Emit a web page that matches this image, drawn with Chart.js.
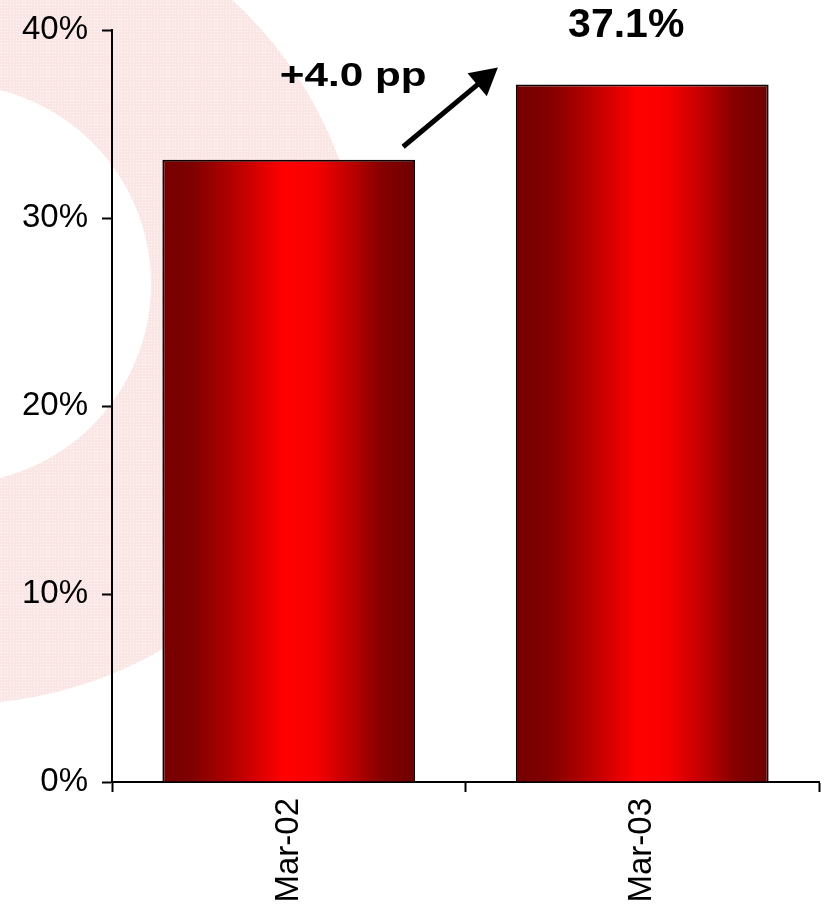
<!DOCTYPE html>
<html>
<head>
<meta charset="utf-8">
<script src="https://cdn.jsdelivr.net/npm/chart.js@4"></script>
<style>
  html, body { margin: 0; padding: 0; background: #ffffff; }
  canvas { display: block; }
</style>
</head>
<body>
<canvas id="chart" width="827" height="914"></canvas>
<script>
// Share values (%) by period
const categories = ['Mar-02', 'Mar-03'];
const shareValues = [33.1, 37.1];
const yTicks = [0, 10, 20, 30, 40];

const FONT = '"Liberation Sans", Arial, Helvetica, sans-serif';
const BAR_PCT = 0.715;

// Horizontal shading for each bar: dark edges, bright red centre
function barGradient(ctx) {
  const chart = ctx.chart;
  const { chartArea, scales } = chart;
  if (!chartArea || !scales.x) return '#c00000';
  const cx = scales.x.getPixelForValue(ctx.dataIndex);
  const w = (scales.x.width / categories.length) * BAR_PCT;
  const g = chart.ctx.createLinearGradient(cx - w / 2, 0, cx + w / 2, 0);
  g.addColorStop(0.00, '#760000');
  g.addColorStop(0.12, '#800000');
  g.addColorStop(0.28, '#b40000');
  g.addColorStop(0.48, '#ff0000');
  g.addColorStop(0.60, '#f80000');
  g.addColorStop(0.74, '#c00000');
  g.addColorStop(0.86, '#880000');
  g.addColorStop(1.00, '#6e0000');
  return g;
}

// Faint dotted pink ring behind the plot
function dotPattern(c) {
  const tile = document.createElement('canvas');
  tile.width = 3; tile.height = 3;
  const t = tile.getContext('2d');
  t.fillStyle = '#fbe6e6';
  t.fillRect(0, 0, 3, 3);
  t.fillStyle = '#fff6f6';
  t.fillRect(1, 1, 1, 1);
  return c.createPattern(tile, 'repeat');
}

const backdrop = {
  id: 'backdrop',
  beforeDraw(chart) {
    const c = chart.ctx;
    c.save();
    c.fillStyle = dotPattern(c);
    c.beginPath();
    c.arc(-41, 299, 405, 0, Math.PI * 2);
    c.arc(-49, 284, 200, 0, Math.PI * 2, true);
    c.fill('evenodd');
    c.restore();
  }
};

// Value label over the latest bar and the change arrow between bars
const callouts = {
  id: 'callouts',
  afterDatasetsDraw(chart) {
    const bars = chart.getDatasetMeta(0).data;
    if (bars.length < 2) return;
    const b1 = bars[0], b2 = bars[1];
    const c = chart.ctx;
    const change = shareValues[1] - shareValues[0];
    c.save();
    c.fillStyle = '#000';
    c.textAlign = 'center';
    c.textBaseline = 'alphabetic';

    // latest value
    c.font = 'bold 41px ' + FONT;
    c.fillText(shareValues[1].toFixed(1) + '%', b2.x - 16, b2.y - 48);

    // change in percentage points
    const r1 = b1.x + b1.width / 2;
    c.save();
    c.translate(r1 - 62, b1.y - 74);
    c.scale(1.28, 1);
    c.font = 'bold 33px ' + FONT;
    c.fillText((change >= 0 ? '+' : '') + change.toFixed(1) + ' pp', 0, 0);
    c.restore();

    // arrow
    const l2 = b2.x - b2.width / 2;
    const x0 = r1 - 12, y0 = b1.y - 13;
    const x1 = l2 - 18, y1 = b2.y - 17;
    const ang = Math.atan2(y1 - y0, x1 - x0);
    const headLen = 27, headHalf = 15;
    const bx = x1 - headLen * Math.cos(ang), by = y1 - headLen * Math.sin(ang);
    c.strokeStyle = '#000';
    c.lineWidth = 5;
    c.lineCap = 'butt';
    c.beginPath();
    c.moveTo(x0, y0);
    c.lineTo(bx + 2 * Math.cos(ang), by + 2 * Math.sin(ang));
    c.stroke();
    c.beginPath();
    c.moveTo(x1, y1);
    c.lineTo(bx + headHalf * Math.sin(ang), by - headHalf * Math.cos(ang));
    c.lineTo(bx - headHalf * Math.sin(ang), by + headHalf * Math.cos(ang));
    c.closePath();
    c.fill();
    c.restore();
  }
};

new Chart(document.getElementById('chart'), {
  type: 'bar',
  data: {
    labels: categories,
    datasets: [{
      data: shareValues,
      backgroundColor: barGradient,
      borderColor: '#120000',
      borderWidth: 2,
      categoryPercentage: 1,
      barPercentage: BAR_PCT
    }]
  },
  options: {
    responsive: false,
    animation: false,
    devicePixelRatio: 1,
    layout: { padding: { top: 30, right: 8, left: 0, bottom: 0 } },
    plugins: {
      legend: { display: false },
      tooltip: { enabled: false }
    },
    scales: {
      x: {
        offset: true,
        grid: {
          offset: true,
          drawOnChartArea: false,
          drawTicks: true,
          tickLength: 10,
          tickWidth: 2,
          color: '#000'
        },
        border: { color: '#000', width: 2 },
        ticks: {
          color: '#000',
          font: { family: FONT, size: 33 },
          maxRotation: 90,
          minRotation: 90,
          padding: 6
        },
        afterFit(scale) { scale.height = 132; }
      },
      y: {
        min: 0,
        max: 40,
        afterBuildTicks(scale) { scale.ticks = yTicks.map(v => ({ value: v })); },
        grid: {
          drawOnChartArea: false,
          drawTicks: true,
          tickLength: 10,
          tickWidth: 2,
          color: '#000'
        },
        border: { color: '#000', width: 2 },
        ticks: {
          color: '#000',
          font: { family: FONT, size: 33, lineHeight: 0.9 },
          padding: 14,
          callback: v => v + '%'
        },
        afterFit(scale) { scale.width = 112; }
      }
    }
  },
  plugins: [backdrop, callouts]
});
</script>
</body>
</html>
